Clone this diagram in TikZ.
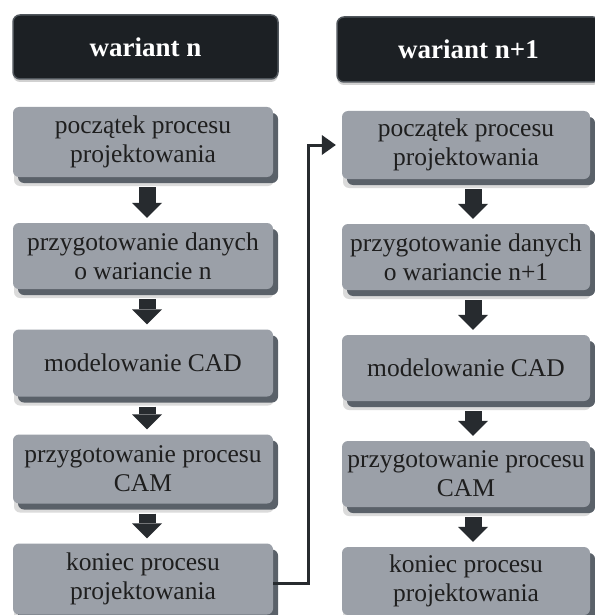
\documentclass[tikz,border=0pt]{standalone}
\usepackage{fontspec}
\setmainfont{Liberation Serif}
\usetikzlibrary{arrows.meta,shadows}
\definecolor{headfill}{HTML}{1C2024}
\definecolor{headrim}{HTML}{50565C}
\definecolor{boxface}{HTML}{9BA0A8}
\definecolor{boxedge}{HTML}{5A6169}
\definecolor{txt}{HTML}{1E1E1E}
\definecolor{arrowc}{HTML}{272B2F}
\begin{document}
\begin{tikzpicture}[x=1pt,y=-1pt,
  hdr/.style={fill=headfill, draw=headrim, line width=1.5pt, rounded corners=7pt,
    text=white, font=\fontsize{27}{31}\selectfont\bfseries, inner sep=0pt,
    general shadow={fill=black!18, shadow yshift=-3pt}},
  gbox/.style={fill=boxface, rounded corners=6pt, align=center, text=txt,
    font=\fontsize{25.5}{29}\selectfont, inner sep=0pt,
    general shadow={fill=black!14, shadow xshift=1pt, shadow yshift=-9pt},
    general shadow={fill=boxedge, shadow xshift=5pt, shadow yshift=-6pt}},
  lbox/.style={gbox, minimum width=260pt},
  rbox/.style={gbox, minimum width=248pt},
  blk/.style={draw=arrowc, line width=17pt,
    -{Triangle[width=30pt,length=15pt,line width=0pt]},
    shorten <=10pt, shorten >=5pt},
  conn/.style={draw=arrowc, line width=3pt,
    -{Triangle[width=20pt,length=14pt,line width=0pt]}}]
\useasboundingbox (0,0) rectangle (594,615);
\fill[white] (0,0) rectangle (594,615);

% headers
\node[hdr, minimum width=265pt, minimum height=64pt] (hl) at (145.5,47) {wariant n};
\node[hdr, minimum width=263pt, minimum height=65pt] (hr) at (468.5,49.5) {wariant n+1};

% left column
\node[lbox, minimum height=70pt] (l1) at (143,142) {początek procesu\\projektowania};
\node[lbox, minimum height=66pt] (l2) at (143,256) {przygotowanie danych\\o wariancie n};
\node[lbox, minimum height=67pt] (l3) at (143,363) {modelowanie CAD};
\node[lbox, minimum height=69pt] (l4) at (143,469) {przygotowanie procesu\\CAM};
\node[lbox, minimum height=71pt] (l5) at (143,579) {koniec procesu\\projektowania};

% right column
\node[rbox, minimum height=68pt] (r1) at (466,145) {początek procesu\\projektowania};
\node[rbox, minimum height=66pt] (r2) at (466,257) {przygotowanie danych\\o wariancie n+1};
\node[rbox, minimum height=66pt] (r3) at (466,368) {modelowanie CAD};
\node[rbox, minimum height=66pt] (r4) at (466,474) {przygotowanie procesu\\CAM};
\node[rbox, minimum height=68pt] (r5) at (466,581) {koniec procesu\\projektowania};

% block arrows
\foreach \a/\b in {l1/l2,l2/l3,l3/l4,l4/l5}
  \draw[blk] ([xshift=4pt]\a.south) -- ([xshift=4pt]\b.north);
\foreach \a/\b in {r1/r2,r2/r3,r3/r4,r4/r5}
  \draw[blk] ([xshift=7pt]\a.south) -- ([xshift=7pt]\b.north);

% connector between variants
\draw[conn] ([yshift=-4pt]l5.east) -- ([xshift=35pt,yshift=-4pt]l5.east) |- ([xshift=-6pt]r1.west);
\end{tikzpicture}
\end{document}
